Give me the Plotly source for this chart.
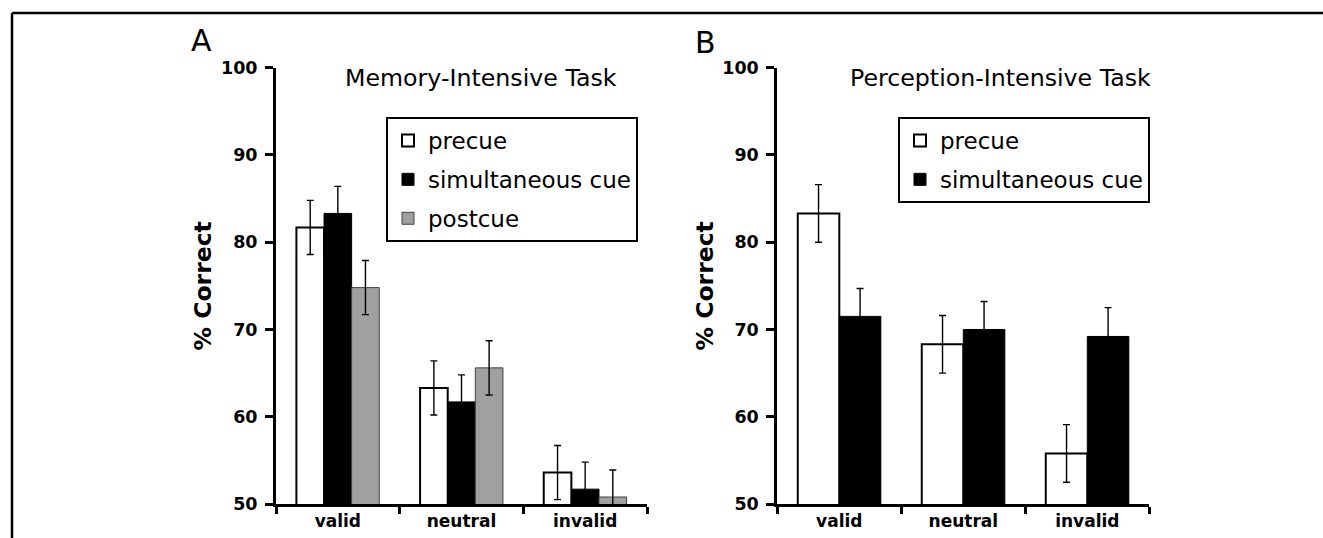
import plotly.graph_objects as go

categories = ["valid", "neutral", "invalid"]

# Panel A: Memory-Intensive Task
a_precue = [81.7, 63.3, 53.6]
a_simul = [83.3, 61.7, 51.7]
a_post = [74.8, 65.6, 50.8]
a_precue_err = [3.1, 3.1, 3.1]
a_simul_err = [3.1, 3.1, 3.1]
a_post_err = [3.1, 3.1, 3.1]

# Panel B: Perception-Intensive Task
b_precue = [83.3, 68.3, 55.8]
b_simul = [71.5, 70.0, 69.2]
b_precue_err = [3.3, 3.3, 3.3]
b_simul_err = [3.2, 3.2, 3.3]

y_ticks = [50, 60, 70, 80, 90, 100]

W, H = 1323, 538
FONT = "DejaVu Sans"

def px(x):
    return x / W

def py(y):
    return 1 - y / H

def style(name):
    if name == "precue":
        return dict(color="white", line=dict(color="black", width=2))
    if name == "simultaneous cue":
        return dict(color="black", line=dict(color="black", width=1))
    return dict(color="#a0a0a0", line=dict(color="#404040", width=1))

fig = go.Figure()

def add(name, vals, errs, xa, ya, legend):
    fig.add_trace(go.Bar(
        x=categories, y=vals, name=name, marker=style(name),
        error_y=dict(type="data", array=errs, visible=True, color="black",
                     thickness=1.4, width=3.5),
        xaxis=xa, yaxis=ya, legend=legend, legendgroup=legend + name,
    ))

add("precue", a_precue, a_precue_err, "x", "y", "legend")
add("simultaneous cue", a_simul, a_simul_err, "x", "y", "legend")
add("postcue", a_post, a_post_err, "x", "y", "legend")
add("precue", b_precue, b_precue_err, "x2", "y2", "legend2")
add("simultaneous cue", b_simul, b_simul_err, "x2", "y2", "legend2")

xax = dict(showline=True, linecolor="black", linewidth=3, ticks="outside",
           tickson="boundaries", ticklen=7, tickwidth=2.5, tickcolor="black",
           showgrid=False, zeroline=False, automargin=False,
           tickfont=dict(family=FONT, size=17, color="black", weight="bold"))
yax = dict(showline=True, linecolor="black", linewidth=3, ticks="outside",
           ticklen=8, tickwidth=2.5, tickcolor="black", range=[50, 100],
           tickvals=y_ticks, showgrid=False, zeroline=False, automargin=False,
           ticklabelstandoff=4,
           tickfont=dict(family=FONT, size=17.5, color="black", weight="bold"),
           title=dict(text="% Correct", standoff=3,
                      font=dict(family=FONT, size=23.5, color="black", weight="bold")))

legend_common = dict(bordercolor="black", borderwidth=2, bgcolor="white",
                     font=dict(family=FONT, size=23, color="black"),
                     xanchor="left", yanchor="top", tracegroupgap=6,
                     traceorder="grouped")

def label(text, x, y, size):
    return dict(text=text, x=px(x), y=py(y), xref="paper", yref="paper",
                xanchor="center", yanchor="middle", showarrow=False,
                font=dict(family=FONT, size=size, color="black"))

fig.update_layout(
    template="none",
    width=W, height=H, margin=dict(l=0, r=0, t=0, b=0, pad=0, autoexpand=False),
    paper_bgcolor="white", plot_bgcolor="white",
    barmode="group", bargap=0.33, bargroupgap=0,
    xaxis=dict(domain=[px(276), px(647)], anchor="y", **xax),
    yaxis=dict(domain=[py(504), py(67.7)], anchor="x", **yax),
    xaxis2=dict(domain=[px(777.3), px(1149.3)], anchor="y2", **xax),
    yaxis2=dict(domain=[py(504), py(67.7)], anchor="x2", **yax),
    legend=dict(x=px(386), y=py(117), **legend_common),
    legend2=dict(x=px(898), y=py(117), **legend_common),
    showlegend=True,
    annotations=[
        label("Memory-Intensive Task", 481, 78, 23.7),
        label("Perception-Intensive Task", 1000, 78, 23.7),
        label("A", 202, 41, 30),
        label("B", 705, 43, 30),
    ],
    shapes=[
        dict(type="line", xref="paper", yref="paper", x0=px(12), y0=py(13), x1=1, y1=py(13),
             line=dict(color="black", width=2.5)),
        dict(type="line", xref="paper", yref="paper", x0=px(12), y0=py(13), x1=px(12), y1=0,
             line=dict(color="black", width=2.5)),
    ],
)

fig.write_html(
    "out.html",
    config={"displayModeBar": False},
    post_script="document.body.style.margin='0';document.body.style.overflow='hidden';"
                "document.documentElement.style.overflow='hidden';",
)
